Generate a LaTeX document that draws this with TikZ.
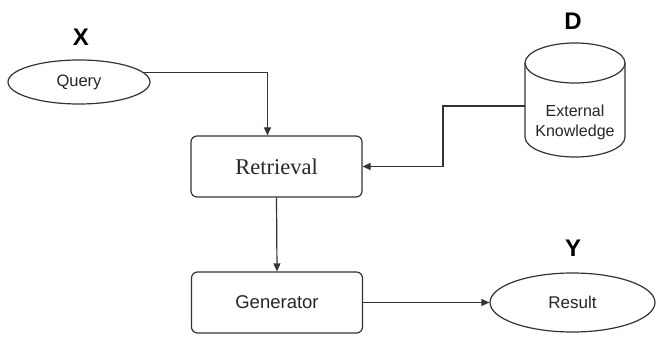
\documentclass[tikz,border=0pt]{standalone}
\usepackage{fontspec}
\setmainfont{Liberation Serif}
\setsansfont{Liberation Sans}
\usetikzlibrary{shapes.geometric,arrows.meta}
\tikzset{
  line/.style={draw=black!80, line width=1.2pt},
  arr/.style={line, -{Triangle[length=8pt,width=7pt]}},
  procbox/.style={line, fill=white, rounded corners=6pt, minimum width=171pt, minimum height=61pt, inner sep=0pt},
  oval/.style={line, fill=white, ellipse, inner sep=0pt},
  sanslbl/.style={font=\sffamily\fontsize{16}{18}\selectfont, text=black!85},
  varlbl/.style={font=\sffamily\bfseries\fontsize{24}{26}\selectfont, text=black}
}
\begin{document}
\begin{tikzpicture}[x=1pt,y=-1pt]
\useasboundingbox (0,0) rectangle (658,339);
% variable labels
\node[varlbl] (lx) at (81,37) {X};
\node[varlbl] (ld) at (573,21) {D};
\node[varlbl] (ly) at (573,248) {Y};
% query
\node[oval, minimum width=142pt, minimum height=44pt, sanslbl, font=\sffamily\fontsize{16.5}{18}\selectfont] (q) at (79,82) {Query};
% retrieval
\node[procbox, font=\fontsize{22.5}{25}\selectfont, text=black!85] (r) at (276.5,166.5) {Retrieval};
% generator
\node[procbox, sanslbl, font=\sffamily\fontsize{18.5}{21}\selectfont] (g) at (277,302.5) {Generator};
% result
\node[oval, minimum width=165pt, minimum height=59pt, sanslbl, font=\sffamily\fontsize{17}{20}\selectfont] (res) at (572.5,302.5) {Result};
% external knowledge cylinder
\draw[line, fill=white] (525,63) -- (525,137) arc[start angle=180, end angle=0, x radius=50, y radius=20] -- (625,63);
\draw[line, fill=white] (575,63) ellipse[x radius=50, y radius=20];
\node[draw=none, minimum width=100pt, minimum height=114pt, inner sep=0pt] (ek) at (575,100) {};
\node[sanslbl, align=center, font=\sffamily\fontsize{16}{20}\selectfont] (ekt) at (575,122) {External\\Knowledge};
\coordinate (ekw) at (525,106);
% connectors
\coordinate (rin) at ([xshift=-9pt]r.north);
\draw[arr] (q.8) -| (rin);
\draw[arr] (ekw) -| (443,166.5) -- (r.east);
\draw[arr] (r.south) -- (g.north);
\draw[arr] (g.east) -- (res.west);
\end{tikzpicture}
\end{document}
